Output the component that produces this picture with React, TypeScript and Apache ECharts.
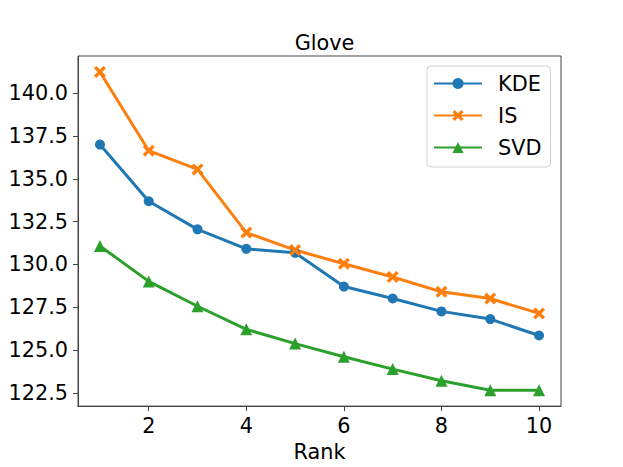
import React, { useEffect, useRef } from "react";
import * as echarts from "echarts";

const ranks = [1, 2, 3, 4, 5, 6, 7, 8, 9, 10];
const kde = [137.0, 133.69, 132.05, 130.91, 130.68, 128.71, 128.01, 127.26, 126.81, 125.85];
const is = [141.24, 136.64, 135.55, 131.86, 130.84, 130.04, 129.27, 128.4, 128.01, 127.14];
const svd = [131.08, 129.01, 127.56, 126.21, 125.38, 124.61, 123.89, 123.21, 122.66, 122.66];
const xTicks = [2, 4, 6, 8, 10];
const yTicks = [122.5, 125, 127.5, 130, 132.5, 135, 137.5, 140];

const FONT = "DejaVu Sans";
const FS = 20.8;
const X_PATH =
  "path://M0,2 L2,0 L5,3 L8,0 L10,2 L7,5 L10,8 L8,10 L5,7 L2,10 L0,8 L3,5 Z";

export default function App() {
  const ref = useRef<HTMLDivElement>(null);
  useEffect(() => {
    const chart = echarts.init(ref.current!, undefined, { renderer: "svg" });
    const mk = (name: string, data: number[], color: string, symbol: string, size: number) => ({
      name,
      type: "line",
      data: ranks.map((r, i) => [r, data[i]]),
      symbol,
      symbolSize: size,
      lineStyle: { color, width: 3 },
      itemStyle: { color },
    });
    chart.setOption({
      animation: false,
      backgroundColor: "#fff",
      textStyle: { fontFamily: FONT },
      title: {
        text: "Glove",
        left: 319.5,
        textAlign: "center",
        top: 27,
        textStyle: { fontFamily: FONT, fontSize: FS, fontWeight: "normal", color: "#000" },
      },
      grid: {
        left: 78,
        right: 62,
        top: 56,
        bottom: 59,
        show: true,
        borderColor: "#444",
        borderWidth: 1,
        backgroundColor: "transparent",
      },
      legend: {
        orient: "vertical",
        left: 427,
        top: 66,
        padding: [7, 9, 9, 6],
        backgroundColor: "rgba(255,255,255,0.8)",
        borderColor: "#d0d0d0",
        borderWidth: 1,
        borderRadius: 4,
        itemWidth: 48,
        itemHeight: 14,
        itemGap: 11,
        textStyle: {
          fontFamily: FONT,
          fontSize: FS,
          color: "#000",
          lineHeight: 21,
          padding: [0, 0, 0, 11],
        },
        data: ["KDE", "IS", "SVD"],
      },
      xAxis: {
        type: "value",
        min: 0.55,
        max: 10.45,
        name: "Rank",
        nameLocation: "middle",
        nameGap: 29,
        nameTextStyle: { fontFamily: FONT, fontSize: FS, color: "#000" },
        splitLine: { show: false },
        axisLine: { show: true, onZero: false, lineStyle: { color: "#444", width: 1 } },
        axisTick: {
          show: true,
          inside: false,
          length: 5,
          customValues: xTicks,
          lineStyle: { color: "#444", width: 1 },
        },
        axisLabel: {
          customValues: xTicks,
          margin: 9,
          fontFamily: FONT,
          fontSize: FS,
          color: "#000",
        },
      },
      yAxis: {
        type: "value",
        min: 121.73,
        max: 142.17,
        splitLine: { show: false },
        axisLine: { show: true, onZero: false, lineStyle: { color: "#444", width: 1 } },
        axisTick: {
          show: true,
          inside: false,
          length: 5,
          customValues: yTicks,
          lineStyle: { color: "#444", width: 1 },
        },
        axisLabel: {
          customValues: yTicks,
          margin: 10,
          fontFamily: FONT,
          fontSize: FS,
          color: "#000",
          formatter: (v: number) => v.toFixed(1),
        },
      },
      series: [
        mk("KDE", kde, "#1f77b4", "circle", 10),
        mk("IS", is, "#ff7f0e", X_PATH, 12),
        mk("SVD", svd, "#2ca02c", "triangle", 12),
      ],
    });
    return () => chart.dispose();
  }, []);
  return (
    <div
      ref={ref}
      style={{ position: "fixed", left: 0, top: 0, width: 623, height: 467 }}
    />
  );
}
